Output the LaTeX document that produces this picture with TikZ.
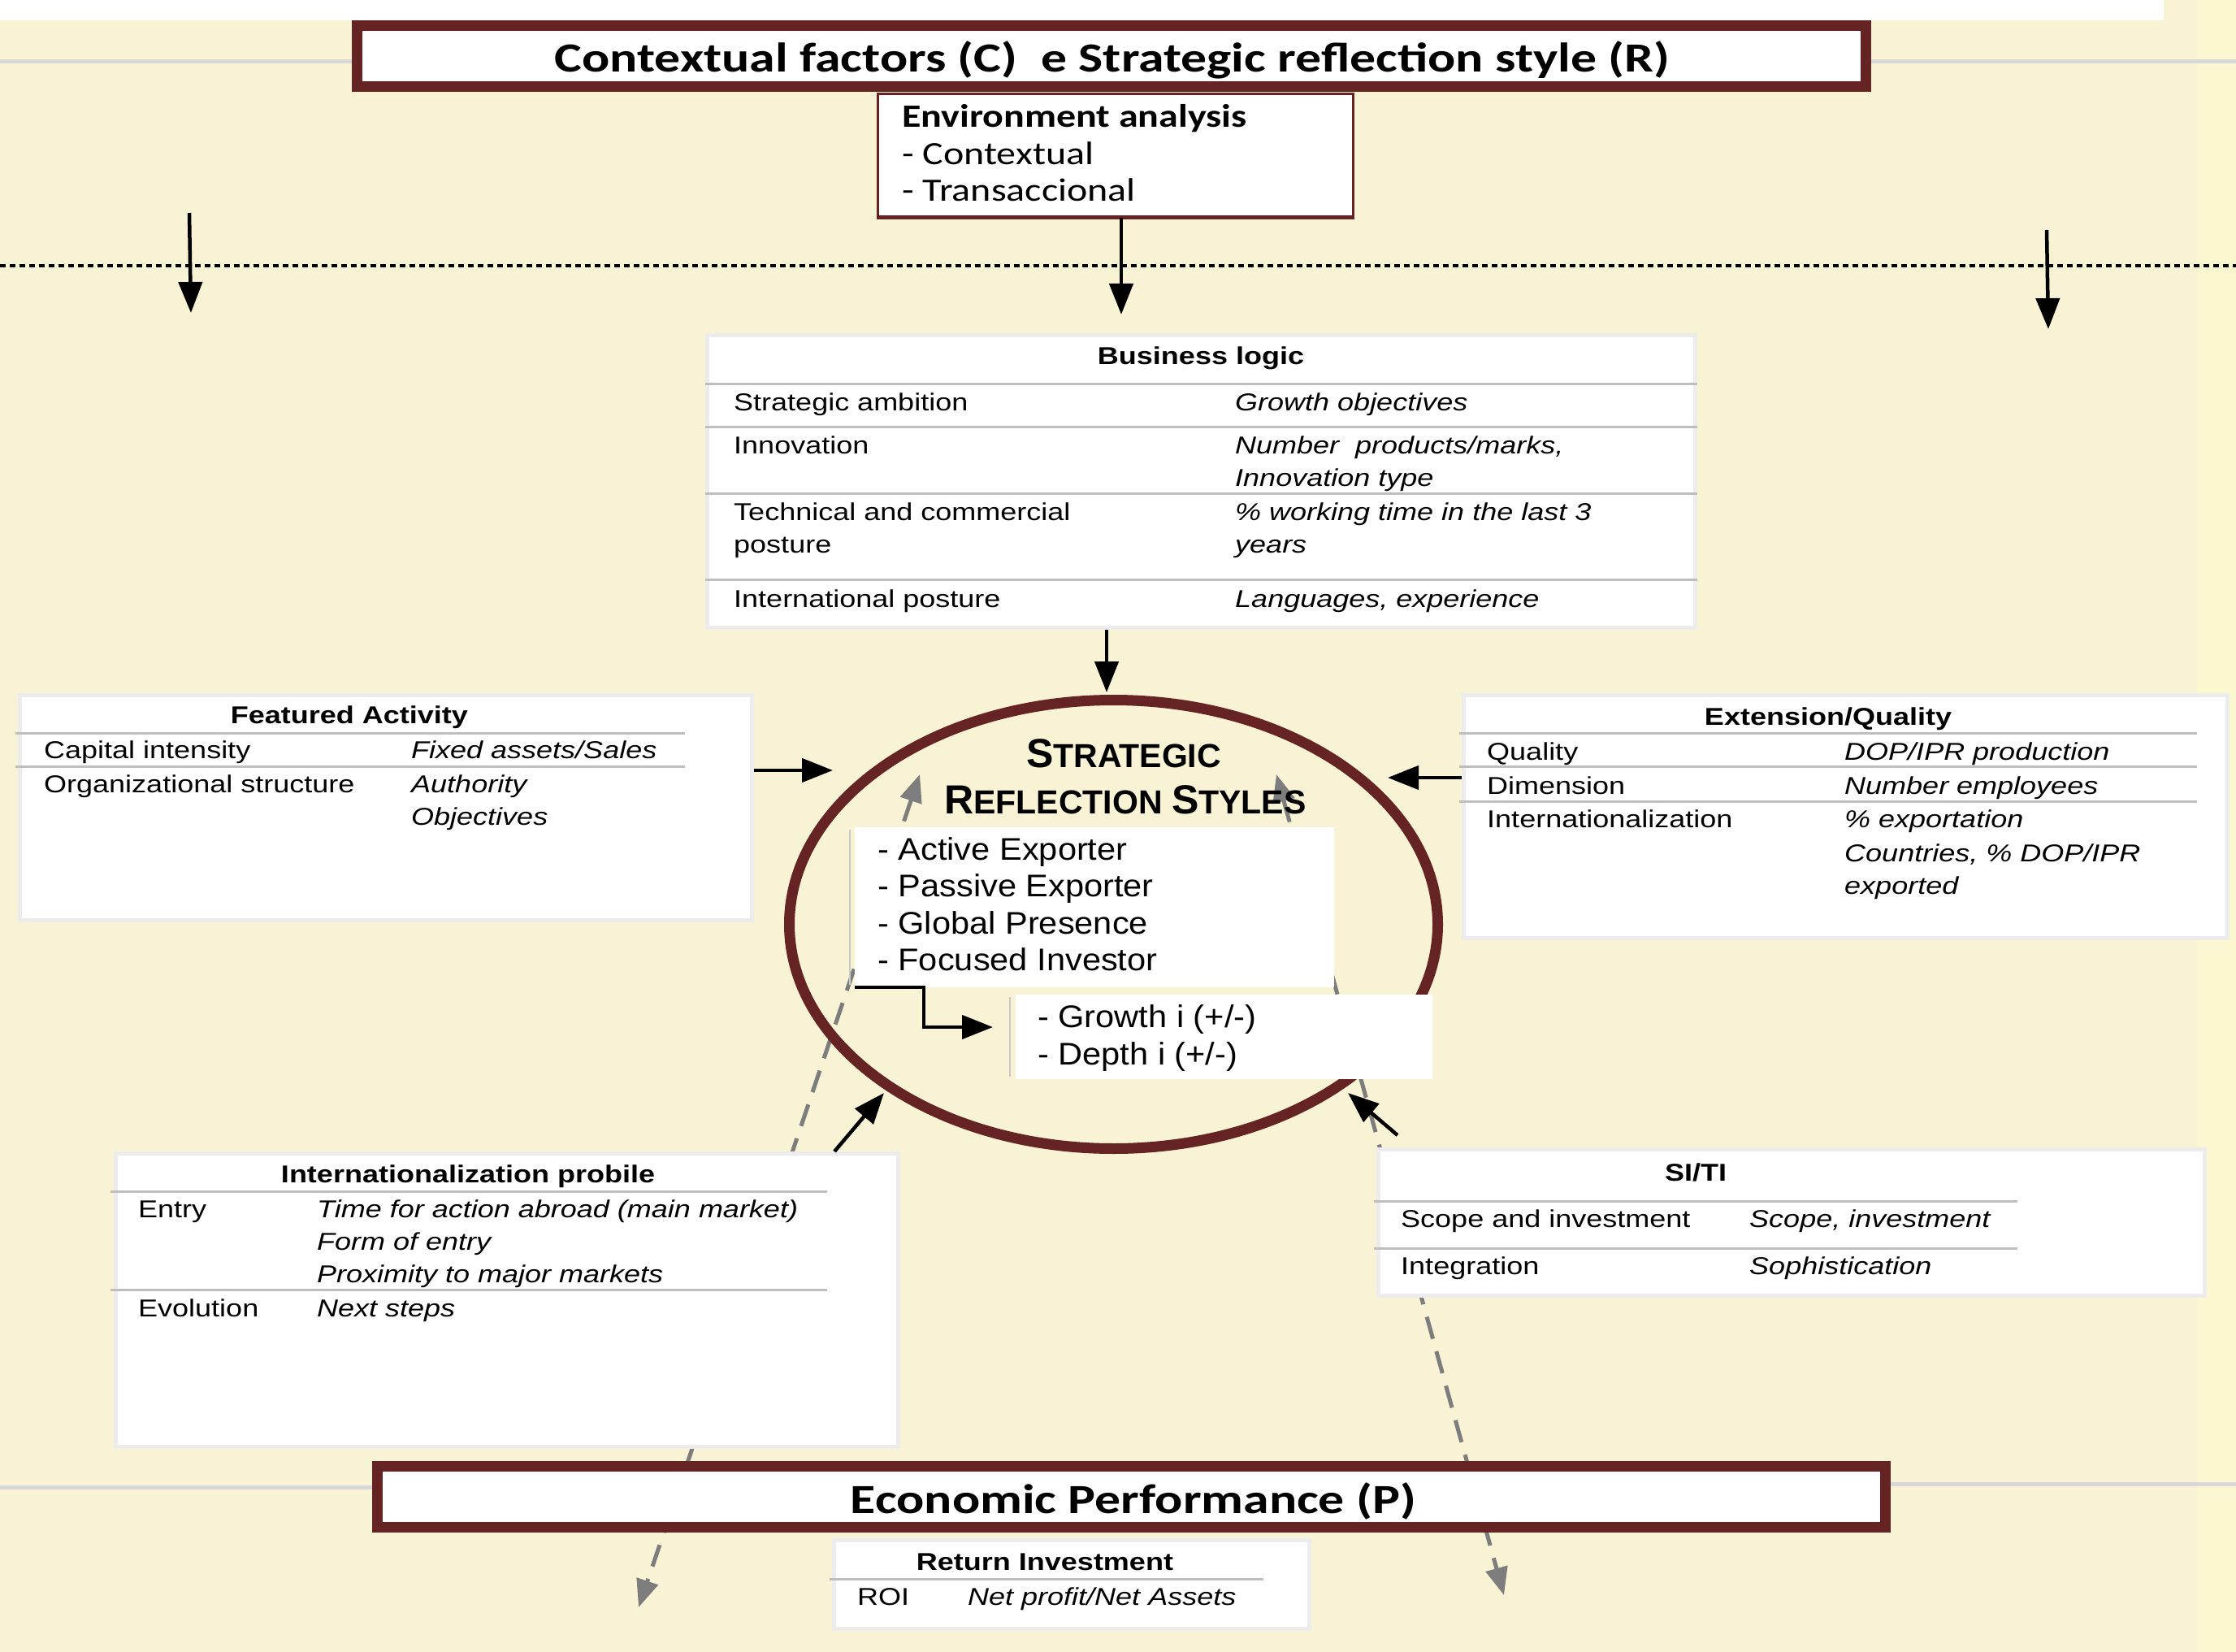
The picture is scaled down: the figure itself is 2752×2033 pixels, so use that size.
\documentclass[tikz,border=0pt]{standalone}
\usepackage{fontspec}
\usetikzlibrary{arrows.meta,shapes.geometric}
\newfontfamily\tf[FakeStretch=1.2]{Liberation Sans}
\newfontfamily\tfa{Liberation Sans}
\newfontfamily\tfb[FakeStretch=1.08]{Liberation Sans}
\newfontfamily\cf[FakeStretch=1.2]{Carlito}
\newfontfamily\cfw[FakeStretch=1.25]{Carlito}
\definecolor{cream}{RGB}{249,243,214}
\definecolor{stripc}{RGB}{251,247,208}
\definecolor{dred}{RGB}{101,35,35}
\definecolor{bordgray}{RGB}{236,236,236}
\definecolor{rulegray}{RGB}{190,190,190}
\definecolor{bggray}{RGB}{216,216,216}
\definecolor{dgray}{RGB}{125,125,125}
\definecolor{edgegray}{RGB}{200,200,200}
\newcommand\tsz{\fontsize{30}{40}\selectfont}
\begin{document}
\begin{tikzpicture}[x=1pt,y=-1pt,
  tbox/.style={rectangle,draw=bordgray,line width=5pt,fill=white,inner sep=0pt},
  wbox/.style={rectangle,fill=white,inner sep=0pt},
  bigbox/.style={rectangle,draw=dred,line width=13pt,fill=white,inner sep=0pt},
  rul/.style={rulegray,line width=3pt},
  arr/.style={line width=4.5pt,-{Triangle[length=38pt,width=29pt]}},
  darr/.style={dgray,line width=5pt,dash pattern=on 28pt off 16pt,{Triangle[length=34pt,width=27pt]}-{Triangle[length=34pt,width=27pt]}},
  tt/.style={font=\tf\tsz,inner sep=0pt,anchor=base west},
  ti/.style={font=\tf\tsz\itshape,inner sep=0pt,anchor=base west},
  th/.style={font=\tf\tsz\bfseries,inner sep=0pt,anchor=base},
  lst/.style={font=\tfb\fontsize{38.5}{46}\selectfont,inner sep=0pt,anchor=base west},
  envt/.style={font=\cf\fontsize{40}{46}\selectfont,inner sep=0pt,anchor=base west},
  bigt/.style={font=\cfw\fontsize{51}{60}\selectfont\bfseries,inner sep=0pt,anchor=base}
]
% background
\fill[cream] (0,0) rectangle (2752,2033);
\fill[stripc] (2704,0) rectangle (2752,2033);
\fill[white] (0,0) rectangle (2663,25);
\useasboundingbox (0,0) rectangle (2752,2033);
\draw[bggray,line width=5pt] (0,75.5) -- (2752,75.5);
\draw[bggray,line width=5pt] (0,1830) -- (1400,1830);
\draw[bggray,line width=5pt] (1400,1826) -- (2752,1826);
\draw[black,line width=3.3pt,dash pattern=on 7pt off 5pt] (0,327) -- (2752,327);

% dashed grey double arrows (behind boxes)
\coordinate (dl1) at (1132,953);
\coordinate (dl2) at (786,1978);
\coordinate (dr1) at (1571,953);
\coordinate (dr2) at (1851,1963);
\draw[darr] (dl1) -- (dl2);
\draw[darr] (dr1) -- (dr2);

% boxes
\node[tbox,minimum width=1216pt,minimum height=360pt] (bl) at (1478,592.5) {};
\node[tbox,minimum width=901pt,minimum height=277pt] (fa) at (475,994) {};
\node[tbox,minimum width=940pt,minimum height=299pt] (eq) at (2271.5,1005) {};
\node[tbox,minimum width=963pt,minimum height=361pt] (ip) at (624,1600) {};
\node[tbox,minimum width=1017pt,minimum height=180pt] (si) at (2205,1504.5) {};
\node[tbox,minimum width=585pt,minimum height=109pt] (ri) at (1319,1950) {};

\node[rectangle,draw=dred,line width=3pt,fill=white,inner sep=0pt,minimum width=585pt,minimum height=151pt] (env) at (1373,191) {};
\draw[dred,line width=5pt] (env.south west) -- (env.south east);
\node[bigbox,minimum width=1857pt,minimum height=75pt] (ctx) at (1368,69) {};
\node[bigbox,minimum width=1856pt,minimum height=75pt] (ep) at (1392.5,1842) {};

% ellipse and inner boxes
\node[ellipse,draw=dred,line width=13pt,minimum width=798pt,minimum height=552pt,inner sep=0pt] (srs) at (1370.5,1137.5) {};
\node[wbox,minimum width=590pt,minimum height=197pt] (sty) at (1347,1116.5) {};
\node[wbox,minimum width=513pt,minimum height=104pt] (gd) at (1506.5,1276) {};
\draw[edgegray,line width=2pt] ([xshift=-6pt,yshift=-3pt]sty.north west) -- ([xshift=-6pt,yshift=3pt]sty.south west);
\draw[edgegray,line width=2pt] ([xshift=-7pt,yshift=-3pt]gd.north west) -- ([xshift=-7pt,yshift=3pt]gd.south west);

% table rules
\draw[rul] (bl.west |- 0,472) -- (bl.east |- 0,472);
\draw[rul] (bl.west |- 0,525) -- (bl.east |- 0,525);
\draw[rul] (bl.west |- 0,607) -- (bl.east |- 0,607);
\draw[rul] (bl.west |- 0,713) -- (bl.east |- 0,713);
\draw[rul] (19,902) -- (843,902);
\draw[rul] (19,943) -- (843,943);
\draw[rul] (1796,902) -- (2704,902);
\draw[rul] (1796,943) -- (2704,943);
\draw[rul] (1796,986) -- (2704,986);
\draw[rul] (136,1466) -- (1018,1466);
\draw[rul] (136,1587) -- (1018,1587);
\draw[rul] (1691,1478) -- (2483,1478);
\draw[rul] (1691,1536) -- (2483,1536);
\draw[rul] (1021,1943) -- (1555,1943);

% black arrows
\coordinate (la0) at (233,262);
\coordinate (la1) at (235,385);
\coordinate (ma1) at (1380,387);
\coordinate (ra0) at (2519,283);
\coordinate (ra1) at (2521,405);
\draw[arr] (la0) -- (la1);
\draw[arr] (env.south -| ma1) -- (ma1);
\draw[arr] (ra0) -- (ra1);
\coordinate (bla) at (1362,852);
\draw[arr] (bl.south -| bla) -- (bla);
\coordinate (fa1) at (1025,948);
\draw[arr] (fa.east |- fa1) -- (fa1);
\coordinate (eq1) at (1708,957);
\draw[arr] (eq.west |- eq1) -- (eq1);
\coordinate (ip0) at (1027,1417);
\coordinate (ip1) at (1088,1345);
\draw[arr] (ip0) -- (ip1);
\coordinate (si0) at (1720,1397);
\coordinate (si1) at (1659,1345);
\draw[arr] (si0) -- (si1);
\coordinate (gdin) at (1222,1264);
\draw[arr] (sty.south west) -- ++(85,0) |- (gdin);

% title texts
\node[bigt] (ctxt) at (1369,89) {Contextual factors (C)\ \ e Strategic reflection style (R)};
\node[bigt] (ept) at (1395,1862) {Economic Performance (P)};
\node[envt,font=\cf\fontsize{40}{46}\selectfont\bfseries] (env1) at (1110,157) {Environment analysis};
\node[envt] (env2) at (1110,203) {- Contextual};
\node[envt] (env3) at (1110,248) {- Transaccional};

% business logic
\node[th] (blh) at (1478,448) {Business logic};
\node[tt] (bl1a) at (903,505) {Strategic ambition};
\node[ti] (bl1b) at (1520,505) {Growth objectives};
\node[tt] (bl2a) at (903,558) {Innovation};
\node[ti] (bl2b) at (1520,558) {Number\ \ products/marks,};
\node[ti] (bl2c) at (1520,598) {Innovation type};
\node[tt] (bl3a) at (903,640) {Technical and commercial};
\node[tt] (bl3b) at (903,680) {posture};
\node[ti] (bl3c) at (1520,640) {\% working time in the last 3};
\node[ti] (bl3d) at (1520,680) {years};
\node[tt] (bl4a) at (903,747) {International posture};
\node[ti] (bl4b) at (1520,747) {Languages, experience};

% featured activity
\node[th] (fah) at (430,890) {Featured Activity};
\node[tt] (fa1a) at (54,933) {Capital intensity};
\node[ti] (fa1b) at (506,933) {Fixed assets/Sales};
\node[tt] (fa2a) at (54,975) {Organizational structure};
\node[ti] (fa2b) at (506,975) {Authority};
\node[ti] (fa2c) at (506,1015) {Objectives};

% extension / quality
\node[th] (eqh) at (2250,892) {Extension/Quality};
\node[tt] (eq1a) at (1830,935) {Quality};
\node[ti] (eq1b) at (2270,935) {DOP/IPR production};
\node[tt] (eq2a) at (1830,977) {Dimension};
\node[ti] (eq2b) at (2270,977) {Number employees};
\node[tt] (eq3a) at (1830,1018) {Internationalization};
\node[ti] (eq3b) at (2270,1018) {\% exportation};
\node[ti] (eq3c) at (2270,1060) {Countries, \% DOP/IPR};
\node[ti] (eq3d) at (2270,1100) {exported};

% internationalization profile
\node[th] (iph) at (576,1455) {Internationalization probile};
\node[tt] (ip1a) at (170,1498) {Entry};
\node[ti] (ip1b) at (390,1498) {Time for action abroad (main market)};
\node[ti] (ip1c) at (390,1538) {Form of entry};
\node[ti] (ip1d) at (390,1578) {Proximity to major markets};
\node[tt] (ip2a) at (170,1620) {Evolution};
\node[ti] (ip2b) at (390,1620) {Next steps};

% SI/TI
\node[th] (sih) at (2087,1453) {SI/TI};
\node[tt] (si1a) at (1724,1510) {Scope and investment};
\node[ti] (si1b) at (2153,1510) {Scope, investment};
\node[tt] (si2a) at (1724,1568) {Integration};
\node[ti] (si2b) at (2153,1568) {Sophistication};

% return investment
\node[th] (rih) at (1286,1932) {Return Investment};
\node[tt] (ri1a) at (1055,1975) {ROI};
\node[ti] (ri1b) at (1191,1975) {Net profit/Net Assets};

% strategic reflection styles
\node[font=\tfa\bfseries,inner sep=0pt,anchor=base] (srs1) at (1383,944) {\fontsize{50}{60}\selectfont S\fontsize{41}{50}\selectfont TRATEGIC};
\node[font=\tfa\bfseries,inner sep=0pt,anchor=base] (srs2) at (1385,1001) {\fontsize{50}{60}\selectfont R\fontsize{41}{50}\selectfont EFLECTION \fontsize{50}{60}\selectfont S\fontsize{41}{50}\selectfont TYLES};
\node[lst] (st1) at (1080,1058) {- Active Exporter};
\node[lst] (st2) at (1080,1103) {- Passive Exporter};
\node[lst] (st3) at (1080,1149) {- Global Presence};
\node[lst] (st4) at (1080,1194) {- Focused Investor};
\node[lst] (gd1) at (1277,1264) {- Growth i (+/-)};
\node[lst] (gd2) at (1277,1310) {- Depth i (+/-)};
\end{tikzpicture}
\end{document}
